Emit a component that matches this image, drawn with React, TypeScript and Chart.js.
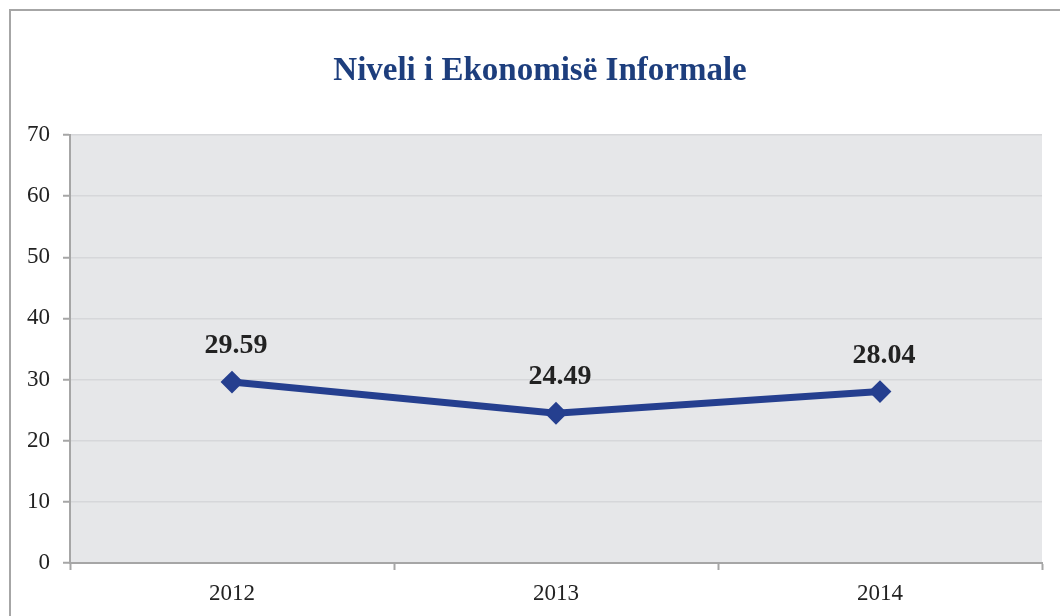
import React, { useEffect, useRef } from "react";
import { Chart, registerables } from "chart.js";

Chart.register(...registerables);

const TITLE = "Niveli i Ekonomisë Informale";
const YEARS = ["2012", "2013", "2014"];
const VALUES = [29.59, 24.49, 28.04];
const Y_MIN = 0;
const Y_MAX = 70;
const Y_STEP = 10;

const FONT = "'Liberation Serif', 'DejaVu Serif', serif";

export default function App() {
  const ref = useRef<HTMLCanvasElement | null>(null);

  useEffect(() => {
    if (!ref.current) return;
    const framePlugin = {
      id: "frame",
      beforeDraw(chart: any) {
        const { ctx, chartArea } = chart;
        ctx.save();
        ctx.fillStyle = "#ffffff";
        ctx.fillRect(0, 0, chart.width, chart.height);
        ctx.strokeStyle = "#a6a6a6";
        ctx.lineWidth = 2;
        ctx.beginPath();
        ctx.moveTo(10, chart.height + 2);
        ctx.lineTo(10, 10);
        ctx.lineTo(chart.width + 2, 10);
        ctx.stroke();
        ctx.fillStyle = "#e6e7e9";
        ctx.fillRect(chartArea.left, chartArea.top, chartArea.right - chartArea.left, chartArea.bottom - chartArea.top);
        ctx.fillStyle = "#1d3e7d";
        ctx.font = `bold 33px ${FONT}`;
        ctx.textAlign = "center";
        ctx.textBaseline = "middle";
        ctx.fillText(TITLE, 540, 71);
        ctx.restore();
      },
      afterDatasetsDraw(chart: any) {
        const { ctx } = chart;
        const meta = chart.getDatasetMeta(0);
        ctx.save();
        ctx.fillStyle = "#222222";
        ctx.font = `bold 28px ${FONT}`;
        ctx.textAlign = "center";
        ctx.textBaseline = "middle";
        meta.data.forEach((pt: any, i: number) => {
          ctx.fillText(VALUES[i].toFixed(2), pt.x + 4, pt.y - 36);
        });
        ctx.restore();
      },
    };

    const chart = new Chart(ref.current, {
      type: "line",
      data: {
        labels: YEARS,
        datasets: [
          {
            data: VALUES,
            borderColor: "#253f8f",
            backgroundColor: "#253f8f",
            borderWidth: 7,
            pointStyle: "rectRot",
            pointRadius: 10,
            pointBorderWidth: 2,
            pointBorderColor: "#253f8f",
            pointBackgroundColor: "#253f8f",
            tension: 0,
          },
        ],
      },
      options: {
        responsive: false,
        animation: false,
        layout: { padding: { left: 0, top: 135, right: 18, bottom: 0 } },
        plugins: {
          legend: { display: false },
          title: { display: false },
          tooltip: { enabled: false },
        },
        scales: {
          x: {
            offset: true,
            afterFit(scale: any) {
              scale.height = 53;
            },
            grid: {
              offset: true,
              drawOnChartArea: false,
              tickLength: 7,
              tickColor: "#a6a6a6",
              tickWidth: 2,
            },
            border: { color: "#a6a6a6", width: 2 },
            ticks: {
              color: "#222222",
              font: { family: FONT, size: 23 },
              padding: 10,
            },
          },
          y: {
            min: Y_MIN,
            max: Y_MAX,
            afterFit(scale: any) {
              scale.width = 70;
            },
            grid: {
              color: "#d6d7da",
              lineWidth: 1.5,
              tickLength: 7,
              tickColor: "#a6a6a6",
              tickWidth: 2,
            },
            border: { color: "#a6a6a6", width: 2 },
            ticks: {
              stepSize: Y_STEP,
              color: "#222222",
              font: { family: FONT, size: 23 },
              padding: 13,
            },
          },
        },
      },
      plugins: [framePlugin],
    });
    return () => chart.destroy();
  }, []);

  return (
    <div style={{ position: "fixed", left: 0, top: 0, width: 1060, height: 616, background: "#fff" }}>
      <canvas ref={ref} width={1060} height={616} style={{ display: "block" }} />
    </div>
  );
}
